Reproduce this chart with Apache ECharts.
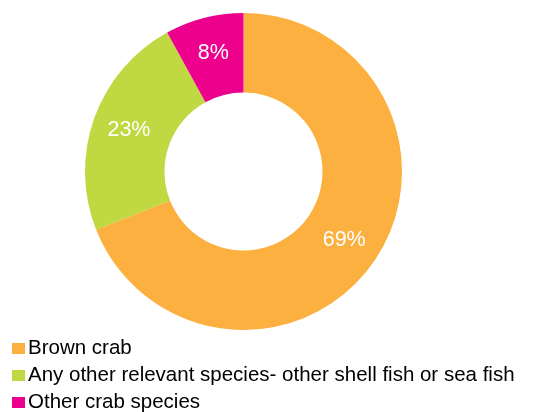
<!DOCTYPE html>
<html><head><meta charset="utf-8">
<script src="https://cdn.jsdelivr.net/npm/echarts@6/dist/echarts.min.js"></script>
<style>html,body{margin:0;padding:0;background:#fff}#c{width:545px;height:412px}</style>
</head><body><div id="c"></div>
<script>
const categories = ["Brown crab", "Any other relevant species- other shell fish or sea fish", "Other crab species"];
const values = [69, 23, 8];
const colors = ["#FBB040", "#C0D841", "#EC008C"];

const chart = echarts.init(document.getElementById('c'));
chart.setOption({
  animation: false,
  legend: {
    orient: 'vertical', left: 7, top: 333, height: 90, padding: 5,
    itemWidth: 13, itemHeight: 11, itemGap: 6, icon: 'rect',
    textStyle: { fontFamily: 'Liberation Sans, Arial', fontSize: 20.5, color: '#000', lineHeight: 20, padding: [0, 0, 0, -2] },
    data: categories
  },
  series: [{
    type: 'pie',
    center: [243.5, 171.5],
    radius: [79, 158.5],
    startAngle: 90,
    clockwise: true,
    label: { show: true, position: 'inside', formatter: '{c}%', color: '#fff', fontFamily: 'Liberation Sans, Arial', fontSize: 21.5 },
    labelLine: { show: false },
    emphasis: { disabled: true },
    data: categories.map((n, i) => ({ name: n, value: values[i], itemStyle: { color: colors[i] } }))
  }]
});
</script></body></html>
